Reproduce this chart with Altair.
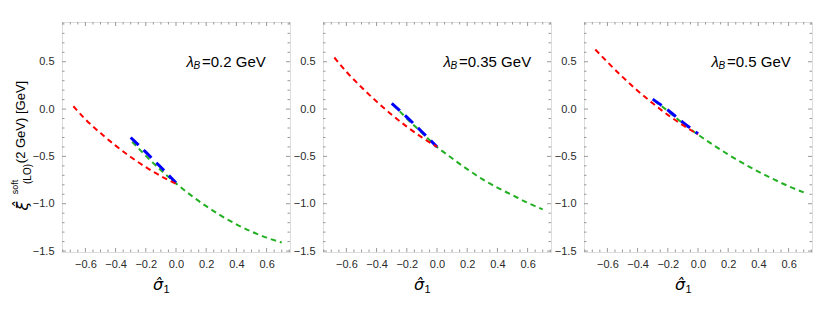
import altair as alt
import pandas as pd

LAMBDA_LABELS = ["=0.2 GeV", "=0.35 GeV", "=0.5 GeV"]

RED_X = [-0.68, -0.6, -0.5, -0.4, -0.3, -0.2, -0.1, 0.0]
RED_Y = [
    [0.03, -0.108, -0.254, -0.386, -0.506, -0.614, -0.708, -0.79],
    [0.545, 0.394, 0.23, 0.079, -0.059, -0.185, -0.299, -0.40],
    [0.63, 0.497, 0.34, 0.194, 0.061, -0.061, -0.17, -0.268],
]
GREEN_X = [-0.29, -0.2, -0.1, 0.0, 0.1, 0.2, 0.3, 0.4, 0.5, 0.6, 0.7]
GREEN_Y = [
    [-0.345, -0.494, -0.646, -0.785, -0.912, -1.026, -1.128, -1.217, -1.294, -1.358, -1.41],
    [0.05, -0.10, -0.25, -0.40, -0.52, -0.635, -0.74, -0.83, -0.91, -0.99, -1.06],
    [0.09, -0.02, -0.15, -0.27, -0.378, -0.48, -0.574, -0.661, -0.741, -0.815, -0.88],
]
BLUE_X = [-0.3, -0.2, -0.1, 0.0]
BLUE_Y = [
    [-0.30, -0.455, -0.615, -0.78],
    [0.06, -0.085, -0.24, -0.40],
    [0.105, -0.01, -0.14, -0.26],
]

X_MAJOR = [-0.6, -0.4, -0.2, 0.0, 0.2, 0.4, 0.6]
X_MINOR = [-0.75, -0.7, -0.65, -0.55, -0.5, -0.45, -0.35, -0.3, -0.25, -0.15, -0.1,
           -0.05, 0.05, 0.1, 0.15, 0.25, 0.3, 0.35, 0.45, 0.5, 0.55, 0.65, 0.7, 0.75]
Y_MAJOR = [-1.5, -1.0, -0.5, 0.0, 0.5]
Y_MINOR = [-1.4, -1.3, -1.2, -1.1, -0.9, -0.8, -0.7, -0.6, -0.4, -0.3, -0.2, -0.1,
           0.1, 0.2, 0.3, 0.4, 0.6, 0.7, 0.8, 0.9]

W, H = 228, 230
FRAME = "#9a9a9a"
LABEL = "#2a2a2a"
FONT = "Liberation Sans"
MAJ, MINL = 4, 2.5

XS = alt.Scale(domain=[-0.755, 0.755], nice=False, zero=False)
YS = alt.Scale(domain=[-1.51, 0.92], nice=False, zero=False)


def xaxis():
    return alt.Axis(values=X_MAJOR, format=".1f", ticks=False, domain=False, grid=False,
                    labelPadding=6, title=None, labelFontSize=11, labelColor=LABEL,
                    labelFont=FONT)


def yaxis():
    return alt.Axis(values=Y_MAJOR, format=".1f", ticks=False, domain=False, grid=False,
                    labelPadding=8, title=None, labelFontSize=11, labelColor=LABEL,
                    labelFont=FONT)


def one():
    return pd.DataFrame({"k": [0]})


def txt(text, x, y, fs, style="normal", align="center", angle=0, font=FONT):
    return alt.Chart(one()).mark_text(text=text, font=font, fontSize=fs, fontStyle=style,
                                      align=align, baseline="middle", angle=angle,
                                      color="black").encode(x=alt.value(x), y=alt.value(y))


def panel(i):
    XA = xaxis()
    YA = yaxis()
    layers = []
    # ticks on all four sides, pointing inward
    for vals, ln in ((X_MAJOR, MAJ), (X_MINOR, MINL)):
        df = pd.DataFrame({"t": vals})
        base = alt.Chart(df).mark_rule(color=FRAME, strokeWidth=1)
        layers.append(base.encode(x=alt.X("t:Q", scale=XS, axis=XA),
                                  y=alt.value(H), y2=alt.value(H - ln)))
        layers.append(base.encode(x=alt.X("t:Q", scale=XS, axis=XA),
                                  y=alt.value(0), y2=alt.value(ln)))
    for vals, ln in ((Y_MAJOR, MAJ), (Y_MINOR, MINL)):
        df = pd.DataFrame({"t": vals})
        base = alt.Chart(df).mark_rule(color=FRAME, strokeWidth=1)
        layers.append(base.encode(y=alt.Y("t:Q", scale=YS, axis=YA),
                                  x=alt.value(0), x2=alt.value(ln)))
        layers.append(base.encode(y=alt.Y("t:Q", scale=YS, axis=YA),
                                  x=alt.value(W), x2=alt.value(W - ln)))
    # curves
    specs = [
        (GREEN_X, GREEN_Y[i], "#22b022", 2, [5.5, 4]),
        (BLUE_X, BLUE_Y[i], "#0000ff", 3, [11, 7]),
        (RED_X, RED_Y[i], "#ff0000", 2, [5.5, 4]),
    ]
    for xs, ys, col, sw, dash in specs:
        df = pd.DataFrame({"x": xs, "y": ys})
        layers.append(alt.Chart(df).mark_line(color=col, strokeWidth=sw, strokeDash=dash,
                                              interpolate="monotone", clip=True).encode(
            x=alt.X("x:Q", scale=XS, axis=XA), y=alt.Y("y:Q", scale=YS, axis=YA)))
    # lambda label
    px = [140, 136, 143][i]
    py = 40
    layers.append(txt("λ", px - 8, py, 15, "italic", "right"))
    layers.append(txt("B", px - 8.5, py + 4, 10, "italic", "left"))
    layers.append(txt(LAMBDA_LABELS[i], px, py, 15, "normal", "left"))
    # x title
    layers.append(txt("σ\u0302", 96, 263, 16, "italic", "center", font="DejaVu Sans"))
    layers.append(txt("1", 101.5, 268, 11, "normal", "left"))
    if i == 0:
        layers.append(txt("(2 GeV) [GeV]", -41.5, 100, 13, "normal", "center", 270))
        layers.append(txt("(LO)", -34.5, 152, 10, "normal", "center", 270))
        layers.append(txt("soft", -47, 165, 9, "normal", "center", 270))
        layers.append(txt("ξ\u0302", -39, 184, 16, "italic", "center", 270, font="DejaVu Sans"))
    return alt.layer(*layers).properties(width=W, height=H)


chart = alt.hconcat(panel(0), panel(1), panel(2), spacing=33, bounds="flush").properties(
    padding={"left": 2, "top": 13, "right": 0, "bottom": 0}
).configure_view(stroke=FRAME, strokeWidth=1).configure(background="white")

chart.save("out.html", embed_options={"renderer": "svg", "actions": False})
